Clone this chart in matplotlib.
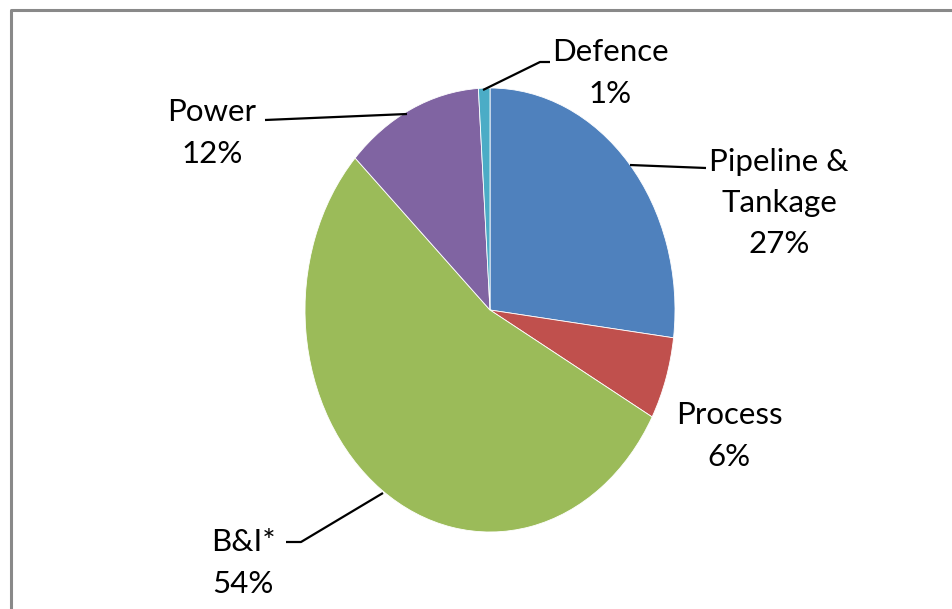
import matplotlib
matplotlib.use("Agg")
import matplotlib.pyplot as plt

# Data
categories = ["Pipeline &\nTankage", "Process", "B&I*", "Power", "Defence"]
values = [27, 6, 54, 12, 1]
colors = ["#4F81BD", "#C0504D", "#9BBB59", "#8064A2", "#4BACC6"]

W, H = 953, 609
fig = plt.figure(figsize=(W / 100, H / 100), dpi=100)
fig.patch.set_facecolor("white")

# Pie axes (elliptical pie)
cx, cy, rx, ry = 490, 310, 185, 222
ax = fig.add_axes([(cx - rx) / W, (H - cy - ry) / H, 2 * rx / W, 2 * ry / H])
ax.pie(values, colors=colors, startangle=90, counterclock=False,
       wedgeprops=dict(edgecolor="white", linewidth=0.6))
ax.set_aspect("auto")
ax.set_xlim(-1, 1)
ax.set_ylim(-1, 1)
ax.axis("off")

# Overlay axes in pixel coordinates for labels and leader lines
ov = fig.add_axes([0, 0, 1, 1], facecolor="none")
ov.set_xlim(0, W)
ov.set_ylim(H, 0)
ov.axis("off")

font = dict(family=["Lato", "DejaVu Sans"], fontsize=22.5, color="black")

label_pos = {
    "Pipeline &\nTankage": (779, 203),
    "Process": (729, 436),
    "B&I*": (243, 563),
    "Power": (212, 133),
    "Defence": (610, 73),
}
leaders = {
    "Pipeline &\nTankage": [(630, 165), (706, 168)],
    "Process": None,
    "B&I*": [(383, 493), (301, 542), (286, 542)],
    "Power": [(407, 114), (265, 120)],
    "Defence": [(483, 90), (540, 62), (550, 62)],
}

for cat, val in zip(categories, values):
    x, y = label_pos[cat]
    ov.text(x, y, f"{cat}\n{val}%", ha="center", va="center",
            linespacing=1.58, **font)
    pts = leaders[cat]
    if pts:
        ov.plot([p[0] for p in pts], [p[1] for p in pts], color="black", lw=1.6,
                solid_capstyle="butt")

# Chart area border (gray, cut at right and bottom)
ov.plot([11, 11, W + 5], [H + 5, 10, 10], color="#898989", lw=2.2, clip_on=False)

fig.savefig("out.png", dpi=100, facecolor="white")
